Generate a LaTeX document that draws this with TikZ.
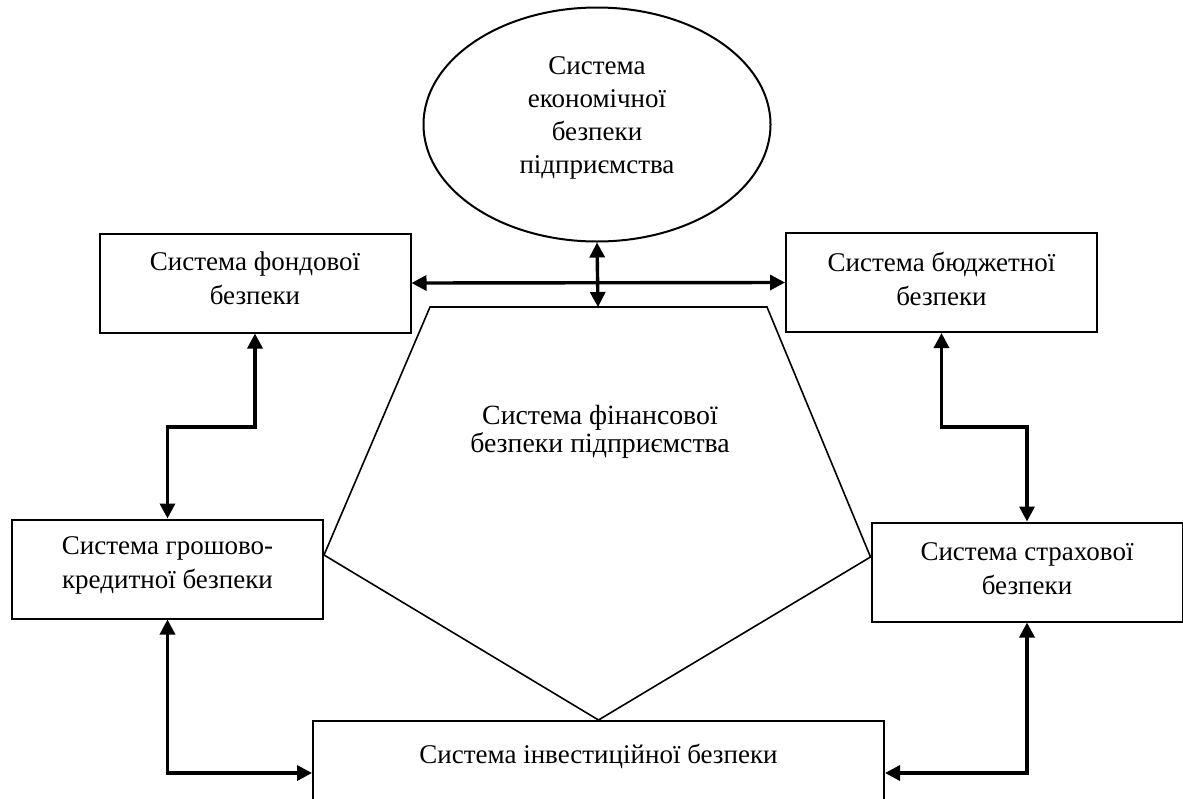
\documentclass[tikz,border=0pt]{standalone}
\usepackage{fontspec}
\setmainfont{Liberation Serif}
\usetikzlibrary{arrows.meta,shapes.geometric}

\begin{document}
\begin{tikzpicture}[x=0.5pt, y=-0.5pt,
    box/.style={draw, line width=1pt, minimum width=155.5pt,
      minimum height=49.5pt, inner sep=0pt},
    boxtext/.style={align=center, inner sep=0pt,
      font=\fontsize{13.5pt}{17pt}\selectfont},
    link/.style={line width=1.7pt,
      {Triangle[length=7.5pt,width=7.5pt]}-{Triangle[length=7.5pt,width=7.5pt]}}]
    \pgfmathsetmacro{\yarr}{773}
    \pgfmathsetmacro{\ykink}{427}
    \clip (0, 0) rectangle (1183, 798);

    % top: economic security
    \node[draw, ellipse, line width=1pt, inner sep=0pt,
          minimum width=173.5pt, minimum height=117pt] (econ) at (597, 124.5) {};
    \node[boxtext, font=\fontsize{13.5pt}{16.5pt}\selectfont]
          (econtext) at (597, 118) {Система\\економічної\\безпеки\\підприємства};

    % boxes
    \node[box] (fund) at (255, 283) {};
    \node[box] (budget) at (941.5, 282.5) {};
    \node[box] (credit) at (167.5, 569) {};
    \node[box] (insur) at (1027, 572) {};
    \node[box, minimum width=285.5pt, minimum height=70pt, anchor=north]
          (invest) at (598.5, 720) {};
    \node[boxtext] (fundtext) at (fund |- 0, 278.5) {Система фондової\\безпеки};
    \node[boxtext] (budgettext) at (budget |- 0, 279) {Система бюджетної\\безпеки};
    \node[boxtext] (credittext) at (credit |- 0, 565.5) {Система грошово-\\кредитної безпеки};
    \node[boxtext] (insurtext) at (insur |- 0, 568.5) {Система страхової\\безпеки};
    \node[boxtext] (investtext) at (invest |- 0, 756) {Система інвестиційної безпеки};

    % financial security pentagon
    \coordinate (pa) at (430, 307);
    \coordinate (pb) at (767, 307);
    \coordinate (pc) at (insur.west |- 0, 557);
    \coordinate (pd) at (invest.north);
    \coordinate (pe) at (credit.east |- 0, 555);
    \coordinate (ptop) at (598, 307);
    \draw[line width=0.8pt] (pa) -- (pb) -- (pc) -- (pd) -- (pe) -- cycle;
    \node[boxtext, font=\fontsize{13.9pt}{14pt}\selectfont]
          (fin) at (600, 432) {Система фінансової\\безпеки підприємства};

    % links
    \draw[link] (econ.south) -- (ptop);
    \draw[link] (fund.east) -- (budget.west);
    \coordinate (fk) at (credit.north |- 0, \ykink);
    \coordinate (bk) at (insur.north |- 0, \ykink);
    \draw[link] (fund.south) |- (fk) -- (credit.north);
    \draw[link] (budget.south) |- (bk) -- (insur.north);
    \draw[link] (credit.south) |- (invest.west |- 0, \yarr);
    \draw[link] (insur.south) |- (invest.east |- 0, \yarr);
\end{tikzpicture}
\end{document}
